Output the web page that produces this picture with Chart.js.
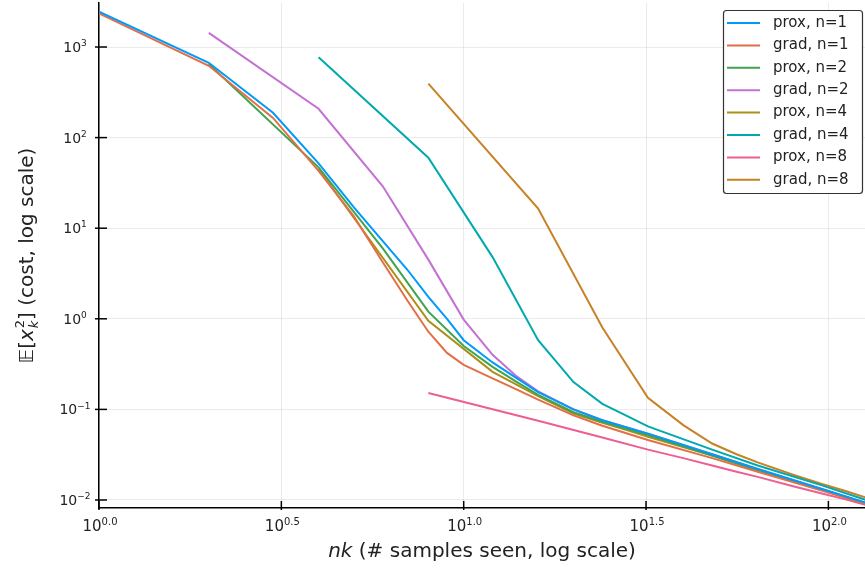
<!DOCTYPE html>
<html lang="en">
<head>
  <meta charset="UTF-8">
  <title>prox vs grad</title>
  <script src="https://cdn.jsdelivr.net/npm/chart.js"></script>
  <style>
    body {
      margin: 0;
      background: #fff;
    }
    #wrap {
      width: 865px;
      height: 571px;
    }
  </style>
</head>
<body>

  <div id="wrap"><canvas id="costChart" width="865" height="571"></canvas></div>

  <script>
    // nk values (samples seen) for each batch size
    var nkN1 = [1, 2, 3, 4, 5, 6, 7, 8, 9, 10, 12, 14, 16, 20, 24, 32, 48, 64, 96, 128];
    var nkN2 = [2, 4, 6, 8, 10, 12, 14, 16, 20, 24, 32, 48, 64, 96, 128];
    var nkN4 = [4, 8, 12, 16, 20, 24, 28, 32, 48, 64, 96, 128];
    var nkN8 = [8, 16, 24, 32, 40, 48, 56, 64, 80, 96, 112, 128];

    // E[x_k^2]
    var proxN1 = [2450, 670, 188, 52, 17, 7.2, 3.5, 1.75, 1.0, 0.58, 0.33, 0.22, 0.155, 0.1, 0.076, 0.054, 0.032, 0.022, 0.0132, 0.0092];
    var gradN1 = [2350, 620, 165, 43, 13.5, 4.2, 1.6, 0.72, 0.42, 0.31, 0.22, 0.165, 0.128, 0.086, 0.066, 0.046, 0.029, 0.0205, 0.0127, 0.0089];
    var proxN2 = [650, 47, 6.0, 1.2, 0.5, 0.295, 0.2, 0.145, 0.093, 0.073, 0.052, 0.031, 0.0215, 0.013, 0.0091];
    var gradN2 = [1430, 208, 29, 4.5, 0.98, 0.4, 0.23, 0.158, 0.1, 0.076, 0.054, 0.032, 0.022, 0.0132, 0.0092];
    var proxN4 = [45, 0.95, 0.26, 0.14, 0.09, 0.071, 0.059, 0.05, 0.031, 0.021, 0.0128, 0.009];
    var gradN4 = [770, 60, 4.8, 0.58, 0.2, 0.115, 0.085, 0.065, 0.036, 0.024, 0.0145, 0.0099];
    var proxN8 = [0.152, 0.075, 0.049, 0.036, 0.029, 0.024, 0.0205, 0.018, 0.0142, 0.0118, 0.0101, 0.0087];
    var gradN8 = [395, 16.5, 0.8, 0.134, 0.067, 0.042, 0.032, 0.026, 0.019, 0.015, 0.0125, 0.0105];

    // tick exponents (base 10)
    var xTickExps = [0, 0.5, 1, 1.5, 2];
    var xTickLabels = ['0.0', '0.5', '1.0', '1.5', '2.0'];
    var yTickExps = [-2, -1, 0, 1, 2, 3];
    var yTickLabels = ['\u22122', '\u22121', '0', '1', '2', '3'];

    var colors = ['#009AFA', '#E36F47', '#3EA44E', '#C371D2', '#AC8E18', '#00A9AD', '#ED5E93', '#C68225'];
    var FONT = '"DejaVu Sans", sans-serif';

    function series(label, xs, ys, i) {
      return {
        label: label,
        data: xs.map(function (x, j) { return { x: x, y: ys[j] }; }),
        borderColor: colors[i],
        borderWidth: 2,
        pointRadius: 0,
        tension: 0,
        fill: false
      };
    }

    var datasets = [
      series('prox, n=1', nkN1, proxN1, 0),
      series('grad, n=1', nkN1, gradN1, 1),
      series('prox, n=2', nkN2, proxN2, 2),
      series('grad, n=2', nkN2, gradN2, 3),
      series('prox, n=4', nkN4, proxN4, 4),
      series('grad, n=4', nkN4, gradN4, 5),
      series('prox, n=8', nkN8, proxN8, 6),
      series('grad, n=8', nkN8, gradN8, 7)
    ];

    // draws "10" with a raised exponent
    function drawPow(ctx, exp, x, y, size) {
      var big = size + 'px ' + FONT;
      var small = Math.round(size * 0.66) + 'px ' + FONT;
      ctx.font = big;
      var w1 = ctx.measureText('10').width;
      ctx.font = small;
      var w2 = ctx.measureText(exp).width;
      var x0 = x - (w1 + w2) / 2;
      ctx.textAlign = 'left';
      ctx.textBaseline = 'alphabetic';
      ctx.font = big;
      ctx.fillText('10', x0, y);
      ctx.font = small;
      ctx.fillText(exp, x0 + w1, y - size * 0.42);
    }

    var decorPlugin = {
      id: 'decor',
      afterDraw: function (chart) {
        var ctx = chart.ctx;
        var xs = chart.scales.x, ys = chart.scales.y;
        var area = chart.chartArea;
        ctx.save();
        ctx.fillStyle = '#222';
        ctx.strokeStyle = '#000';
        ctx.lineWidth = 1.5;

        // x ticks
        xTickExps.forEach(function (e, i) {
          var px = xs.getPixelForValue(Math.pow(10, e));
          ctx.beginPath();
          ctx.moveTo(px, area.bottom + 2);
          ctx.lineTo(px, area.bottom - 7);
          ctx.stroke();
          drawPow(ctx, xTickLabels[i], px + 1, area.bottom + 23, 15);
        });

        // y ticks
        yTickExps.forEach(function (e, i) {
          var py = ys.getPixelForValue(Math.pow(10, e));
          ctx.beginPath();
          ctx.moveTo(area.left - 4, py);
          ctx.lineTo(area.left + 8, py);
          ctx.stroke();
          drawPow(ctx, yTickLabels[i], 75, py + 5, 14);
        });

        // x title
        var cx = (area.left + area.right) / 2;
        ctx.font = 'italic 20px ' + FONT;
        var wA = ctx.measureText('nk').width;
        ctx.font = '20px ' + FONT;
        var rest = ' (# samples seen, log scale)';
        var wB = ctx.measureText(rest).width;
        var x0 = cx - (wA + wB) / 2;
        ctx.textAlign = 'left';
        ctx.textBaseline = 'alphabetic';
        ctx.font = 'italic 20px ' + FONT;
        ctx.fillText('nk', x0, 557);
        ctx.font = '20px ' + FONT;
        ctx.fillText(rest, x0 + wA, 557);

        // y title, rotated
        var cy = (area.top + area.bottom) / 2;
        ctx.save();
        ctx.translate(33, cy);
        ctx.rotate(-Math.PI / 2);
        var norm = '20px ' + FONT, ital = 'italic 20px ' + FONT, scr = '13px ' + FONT, scrI = 'italic 13px ' + FONT;
        ctx.font = norm;
        var w1 = ctx.measureText('\uD835\uDD3C[').width;
        ctx.font = ital;
        var w2 = ctx.measureText('x').width;
        ctx.font = scr;
        var w3 = Math.max(ctx.measureText('2').width, ctx.measureText('k').width) + 1;
        ctx.font = norm;
        var tail = '] (cost, log scale)';
        var w4 = ctx.measureText(tail).width;
        var t = -(w1 + w2 + w3 + w4) / 2;
        ctx.font = norm;
        ctx.fillText('\uD835\uDD3C[', t, 0);
        t += w1;
        ctx.font = ital;
        ctx.fillText('x', t, 0);
        t += w2;
        ctx.font = scr;
        ctx.fillText('2', t + 1, -9);
        ctx.font = scrI;
        ctx.fillText('k', t + 1, 5);
        t += w3;
        ctx.font = norm;
        ctx.fillText(tail, t, 0);
        ctx.restore();

        // legend
        var lx = 723.5, ly = 10.5, lw = 139, lh = 183;
        ctx.fillStyle = '#fff';
        ctx.strokeStyle = '#333';
        ctx.lineWidth = 1.2;
        ctx.beginPath();
        ctx.roundRect(lx, ly, lw, lh, 3);
        ctx.fill();
        ctx.stroke();
        ctx.font = '15px ' + FONT;
        ctx.textBaseline = 'middle';
        chart.data.datasets.forEach(function (ds, i) {
          var ry = 23 + i * 22.4;
          ctx.strokeStyle = ds.borderColor;
          ctx.lineWidth = 2;
          ctx.beginPath();
          ctx.moveTo(727, ry);
          ctx.lineTo(760, ry);
          ctx.stroke();
          ctx.fillStyle = '#222';
          ctx.fillText(ds.label, 773, ry);
        });

        ctx.restore();
      }
    };

    var ctx = document.getElementById('costChart').getContext('2d');

    var costChart = new Chart(ctx, {
      type: 'line',
      data: { datasets: datasets },
      options: {
        responsive: false,
        animation: false,
        devicePixelRatio: 1,
        layout: { padding: { top: 3, right: 0, left: 0, bottom: 0 } },
        plugins: {
          legend: { display: false },
          tooltip: { enabled: false }
        },
        scales: {
          x: {
            type: 'logarithmic',
            min: 1,
            max: 126,
            bounds: 'data',
            afterBuildTicks: function (s) {
              s.ticks = xTickExps.map(function (e) { return { value: Math.pow(10, e) }; });
            },
            afterFit: function (s) { s.height = 63; },
            ticks: { display: false },
            grid: { color: 'rgba(0,0,0,0.08)', drawTicks: false },
            border: { color: '#000', width: 1.5 }
          },
          y: {
            type: 'logarithmic',
            min: 0.00816,
            max: 3060,
            bounds: 'data',
            afterBuildTicks: function (s) {
              s.ticks = yTickExps.map(function (e) { return { value: Math.pow(10, e) }; });
            },
            afterFit: function (s) { s.width = 99; },
            ticks: { display: false },
            grid: { color: 'rgba(0,0,0,0.08)', drawTicks: false },
            border: { color: '#000', width: 1.5 }
          }
        }
      },
      plugins: [decorPlugin]
    });
  </script>

</body>
</html>
